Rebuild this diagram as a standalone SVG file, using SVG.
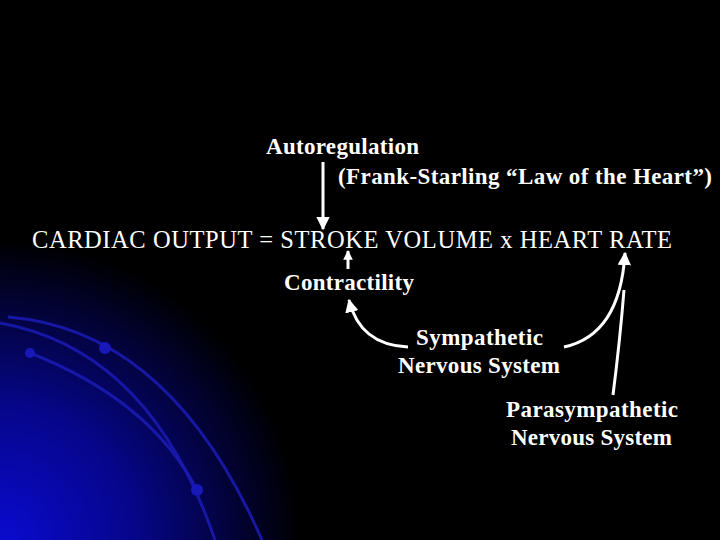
<svg xmlns="http://www.w3.org/2000/svg" width="720" height="540" viewBox="0 0 720 540">
<defs>
<radialGradient id="glow" cx="0" cy="540" r="300" gradientUnits="userSpaceOnUse">
<stop offset="0" stop-color="#0a0ad0"/>
<stop offset="0.45" stop-color="#06068a"/>
<stop offset="1" stop-color="#000000"/>
</radialGradient>
<marker id="ah" viewBox="0 0 10 10" refX="9" refY="5" markerWidth="4.5" markerHeight="4.5" orient="auto" markerUnits="strokeWidth">
<path d="M0,0 L10,5 L0,10 z" fill="#fff"/>
</marker>
<marker id="ah2" viewBox="0 0 10 10" refX="9" refY="5" markerWidth="3.2" markerHeight="3.2" orient="auto" markerUnits="strokeWidth">
<path d="M0,0 L10,5 L0,10 z" fill="#fff"/>
</marker>
</defs>
<style>
text{font-family:"Liberation Serif","Times New Roman",serif;fill:#fff;font-size:23px;font-weight:bold}
text.eq{font-weight:normal;font-size:24.5px}
.arc{fill:none;stroke:#1a1ab0;stroke-width:3;opacity:0.9}
.dot{fill:#1818b8}
.c{fill:none;stroke:#fff;stroke-width:3}
</style>
<rect width="720" height="540" fill="#000"/>
<rect width="720" height="540" fill="url(#glow)"/>
<g id="decor">
<path class="arc" d="M8,317 Q170,330 262,540"/>
<path class="arc" d="M0,323 Q150,350 215,540"/>
<path class="arc" d="M30,353 Q150,400 197,490"/>
<circle class="dot" cx="105" cy="348" r="6"/>
<circle class="dot" cx="30" cy="353" r="5"/>
<circle class="dot" cx="197" cy="490" r="6"/>
</g>
<g id="autoregulation"><text x="266" y="154" textLength="153" lengthAdjust="spacing">Autoregulation</text></g>
<g id="frank-starling"><text x="338" y="184" textLength="374" lengthAdjust="spacing">(Frank-Starling “Law of the Heart”)</text></g>
<g id="equation"><text class="eq" x="32" y="248" textLength="640" lengthAdjust="spacing">CARDIAC OUTPUT = STROKE VOLUME x HEART RATE</text></g>
<g id="contractility"><text x="284" y="290" textLength="130" lengthAdjust="spacing">Contractility</text></g>
<g id="sympathetic"><text x="416" y="345" textLength="127" lengthAdjust="spacing">Sympathetic</text><text x="398" y="373" textLength="162" lengthAdjust="spacing">Nervous System</text></g>
<g id="parasympathetic"><text x="506" y="417" textLength="172" lengthAdjust="spacing">Parasympathetic</text><text x="511" y="445" textLength="161" lengthAdjust="spacing">Nervous System</text></g>
<g id="connectors">
<path class="c" d="M323,162 L323,229" marker-end="url(#ah)"/>
<path class="c" d="M348,269 L348,251" stroke-width="2.5" marker-end="url(#ah2)"/>
<path class="c" d="M408,347 Q360,345 349,300" marker-end="url(#ah)"/>
<path class="c" d="M564,347 Q620,335 625,253" marker-end="url(#ah)"/>
<path class="c" d="M613,395 Q620,340 624,290"/>
</g>
</svg>
